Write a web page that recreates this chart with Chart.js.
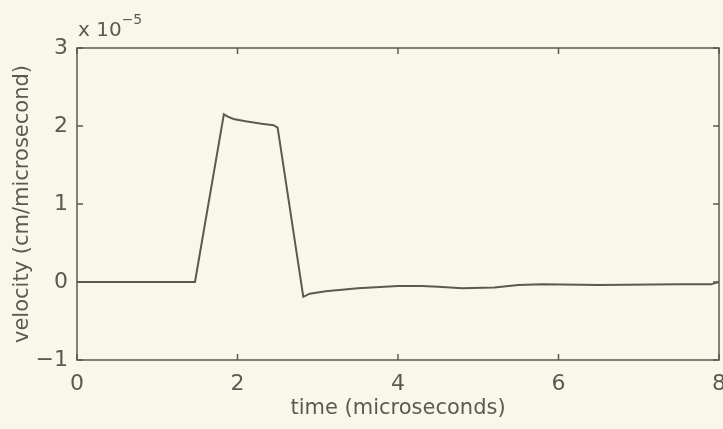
<!DOCTYPE html>
<html>
<head>
<meta charset="utf-8">
<script src="https://cdn.jsdelivr.net/npm/chart.js@4/dist/chart.umd.min.js"></script>
<style>
  body { margin: 0; background: #f8f8ea; }
  #wrap { width: 723px; height: 429px; position: relative; }
</style>
</head>
<body>
<div id="wrap"><canvas id="myChart" width="723" height="429"></canvas></div>
<script>
// time in microseconds, velocity in units of 1e-5 cm/microsecond
var times = [0, 1.0, 1.47, 1.83, 1.88, 1.95, 2.1, 2.3, 2.45, 2.5, 2.82, 2.9, 3.1, 3.5, 4.0, 4.3, 4.5, 4.8, 5.2, 5.5, 5.8, 6.5, 7.5, 7.9, 8.0];
var velocity = [0, 0, 0, 2.15, 2.12, 2.09, 2.06, 2.03, 2.01, 1.98, -0.19, -0.15, -0.12, -0.08, -0.05, -0.05, -0.06, -0.08, -0.07, -0.04, -0.03, -0.04, -0.03, -0.03, 0.0];
var xTicks = [0, 2, 4, 6, 8];
var yTicks = [-1, 0, 1, 2, 3];

var ink = '#5a5a52';
var textCol = '#5a5a52';
var fam = '"DejaVu Sans", "Liberation Sans", Arial, sans-serif';

var points = [];
for (var i = 0; i < times.length; i++) {
    points.push({ x: times[i], y: velocity[i] });
}

// MATLAB style box with inward ticks on all four sides
var boxTicks = {
    id: 'boxTicks',
    afterDraw: function (chart) {
        var ctx = chart.ctx;
        var a = chart.chartArea;
        var xs = chart.scales.x, ys = chart.scales.y;
        var len = 6;
        ctx.save();
        ctx.strokeStyle = ink;
        ctx.lineWidth = 1.5;
        ctx.strokeRect(a.left, a.top, a.right - a.left, a.bottom - a.top);
        ctx.beginPath();
        xTicks.forEach(function (v) {
            var px = xs.getPixelForValue(v);
            ctx.moveTo(px, a.bottom); ctx.lineTo(px, a.bottom - len);
            ctx.moveTo(px, a.top); ctx.lineTo(px, a.top + len);
        });
        yTicks.forEach(function (v) {
            var py = ys.getPixelForValue(v);
            ctx.moveTo(a.left, py); ctx.lineTo(a.left + len, py);
            ctx.moveTo(a.right, py); ctx.lineTo(a.right - len, py);
        });
        ctx.stroke();
        // exponent label
        ctx.fillStyle = textCol;
        ctx.textBaseline = 'alphabetic';
        ctx.font = '20px ' + fam;
        ctx.fillText('x 10', a.left + 1, a.top - 12);
        var w = ctx.measureText('x 10').width;
        ctx.font = '14px ' + fam;
        ctx.fillText('\u22125', a.left + 1 + w, a.top - 24);
        ctx.restore();
    }
};

const data = {
    datasets: [{
        label: 'velocity',
        data: points,
        borderColor: ink,
        borderWidth: 2,
        pointRadius: 0,
        tension: 0,
        fill: false
    }]
};

const config = {
    type: 'line',
    data,
    options: {
        responsive: false,
        animation: false,
        layout: { padding: { top: 48, right: 4, left: 0, bottom: 0 } },
        plugins: {
            legend: { display: false },
            tooltip: { enabled: false }
        },
        scales: {
            x: {
                type: 'linear',
                min: 0,
                max: 8,
                afterFit: function (s) { s.height = 69; s.paddingRight = 0; s.paddingLeft = 0; },
                afterBuildTicks: function (s) { s.ticks = xTicks.map(function (v) { return { value: v }; }); },
                grid: { display: false, drawTicks: false },
                border: { display: false },
                ticks: {
                    color: textCol,
                    padding: 11,
                    font: { size: 22, family: fam }
                },
                title: {
                    display: true,
                    text: 'time (microseconds)',
                    color: textCol,
                    padding: { top: 0, bottom: 8 },
                    font: { size: 21, family: fam }
                }
            },
            y: {
                min: -1,
                max: 3,
                afterFit: function (s) { s.width = 77; s.paddingTop = 0; s.paddingBottom = 0; },
                afterBuildTicks: function (s) { s.ticks = yTicks.map(function (v) { return { value: v }; }); },
                grid: { display: false, drawTicks: false },
                border: { display: false },
                ticks: {
                    color: textCol,
                    padding: 9,
                    font: { size: 22, family: fam },
                    callback: function (v) { return v < 0 ? '\u2212' + Math.abs(v) : String(v); }
                },
                title: {
                    display: true,
                    text: 'velocity (cm/microsecond)',
                    color: textCol,
                    padding: { top: 10, bottom: 0 },
                    font: { size: 21, family: fam }
                }
            }
        }
    },
    plugins: [boxTicks]
};

const myChart = new Chart(document.getElementById('myChart'), config);
</script>
</body>
</html>
